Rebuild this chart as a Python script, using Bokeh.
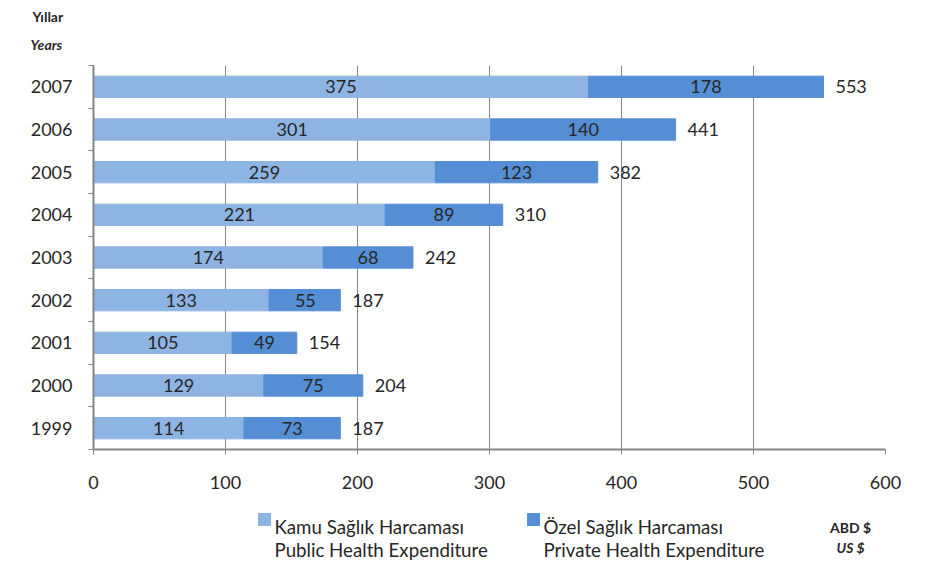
from bokeh.plotting import figure
from bokeh.models import ColumnDataSource, FixedTicker, Range1d, Title
from bokeh.layouts import column
from bokeh.core.properties import value
from bokeh.embed import file_html
from bokeh.resources import INLINE

years = ["1999", "2000", "2001", "2002", "2003", "2004", "2005", "2006", "2007"]
public = [114, 129, 105, 133, 174, 221, 259, 301, 375]
private = [73, 75, 49, 55, 68, 89, 123, 140, 178]
totals = [187, 204, 154, 187, 242, 310, 382, 441, 553]
x_ticks = [0, 100, 200, 300, 400, 500, 600]
series_tr = ["Kamu Sağlık Harcaması", "Özel Sağlık Harcaması"]
series_en = ["Public Health Expenditure", "Private Health Expenditure"]
unit_tr, unit_en = "ABD $", "US $"
axis_tr, axis_en = "Yıllar", "Years"

FONT = "Lato"
TXT = "#262626"
GRID = "#868686"
LIGHT = "#8EB4E3"
DARK = "#558ED5"

W = 923
H_MAIN, H_LEG = 500, 71
L, R, T, B = 93, 38, 65, 51
XMAX = 600
NCAT = len(years)

pos = [i + 0.5 for i in range(NCAT)]
pub_mid = [p / 2 for p in public]
priv_mid = [p + q / 2 for p, q in zip(public, private)]

src = ColumnDataSource(dict(y=pos, public=public, private=private, totals=totals,
                            pub_mid=pub_mid, priv_mid=priv_mid,
                            pub_txt=[str(v) for v in public],
                            priv_txt=[str(v) for v in private],
                            tot_txt=[str(v) for v in totals]))

p = figure(width=W, height=H_MAIN, output_backend="svg", toolbar_location=None,
           x_range=Range1d(0, XMAX), y_range=Range1d(0, NCAT),
           min_border_left=L, min_border_right=R, min_border_top=T, min_border_bottom=B)
p.outline_line_color = None
p.background_fill_color = "white"
p.border_fill_color = "white"

p.hbar(y="y", left=0, right="public", height=0.5, color=LIGHT, source=src)
p.hbar(y="y", left="public", right="totals", height=0.5, color=DARK, source=src)

common = dict(text_font=value(FONT), text_font_size="18px", text_color=TXT,
              text_baseline="middle", source=src)
p.text(x="pub_mid", y="y", text="pub_txt", text_align="center", **common)
p.text(x="priv_mid", y="y", text="priv_txt", text_align="center", **common)
p.text(x="totals", y="y", text="tot_txt", text_align="left", x_offset=12, **common)

# x axis
xa = p.xaxis[0]
xa.ticker = FixedTicker(ticks=x_ticks)
xa.axis_line_color = GRID
xa.axis_line_width = 2
xa.major_tick_line_color = GRID
xa.major_tick_out = 5
xa.major_tick_in = 0
xa.minor_tick_line_color = None
xa.major_label_text_font = FONT
xa.major_label_text_font_size = "18px"
xa.major_label_text_color = TXT
xa.major_label_standoff = 21

# y axis
ya = p.yaxis[0]
ya.ticker = FixedTicker(ticks=pos, minor_ticks=list(range(NCAT + 1)))
ya.major_label_overrides = {v: yr for v, yr in zip(pos, years)}
ya.axis_line_color = GRID
ya.axis_line_width = 2
ya.major_tick_out = 0
ya.major_tick_in = 0
ya.major_tick_line_color = None
ya.minor_tick_line_color = GRID
ya.minor_tick_out = 5
ya.minor_tick_in = 0
ya.major_label_text_font = FONT
ya.major_label_text_font_size = "18px"
ya.major_label_text_color = TXT
ya.major_label_standoff = 16

p.xgrid.grid_line_color = GRID
p.xgrid.ticker = FixedTicker(ticks=x_ticks)
p.ygrid.grid_line_color = None

# axis caption above the chart (closest title first)
p.add_layout(Title(text=axis_en, align="left", offset=-63, standoff=26,
                   text_font=FONT, text_font_size="14px", text_font_style="bold italic",
                   text_color=TXT), "above")
p.add_layout(Title(text=axis_tr, align="left", offset=-61, standoff=-9,
                   text_font=FONT, text_font_size="14px", text_font_style="bold",
                   text_color=TXT), "above")

# legend strip below the chart (x in page pixels, frame aligned with the chart)
lg = figure(width=W, height=H_LEG, output_backend="svg", toolbar_location=None,
            x_range=Range1d(L, W - R), y_range=Range1d(H_LEG, 0),
            min_border_left=L, min_border_right=R, min_border_top=0, min_border_bottom=0,
            x_axis_type=None, y_axis_type=None)
lg.outline_line_color = None
lg.xgrid.visible = False
lg.ygrid.visible = False
lg.border_fill_color = "white"
lg.background_fill_color = "white"

sw = ColumnDataSource(dict(left=[258, 527], right=[270, 539], top=[13, 13], bottom=[25, 25],
                           color=[LIGHT, DARK]))
lg.quad(left="left", right="right", top="top", bottom="bottom", color="color", source=sw)

ltxt = ColumnDataSource(dict(x=[274, 274, 543, 543],
                             y=[26, 49, 26, 49],
                             text=[series_tr[0], series_en[0], series_tr[1], series_en[1]]))
lg.text(x="x", y="y", text="text", source=ltxt, text_font=value(FONT),
        text_font_size="18.7px", text_color=TXT, text_baseline="alphabetic", text_align="left")
lg.text(x=[850], y=[26.5], text=[unit_tr], text_font=value(FONT), text_font_size="14px",
        text_font_style="bold", text_color=TXT, text_baseline="alphabetic", text_align="center")
lg.text(x=[850], y=[46.5], text=[unit_en], text_font=value(FONT), text_font_size="14px",
        text_font_style="bold italic", text_color=TXT, text_baseline="alphabetic",
        text_align="center")

layout = column(p, lg, spacing=0)
open("out.html", "w").write(file_html(layout, INLINE))
